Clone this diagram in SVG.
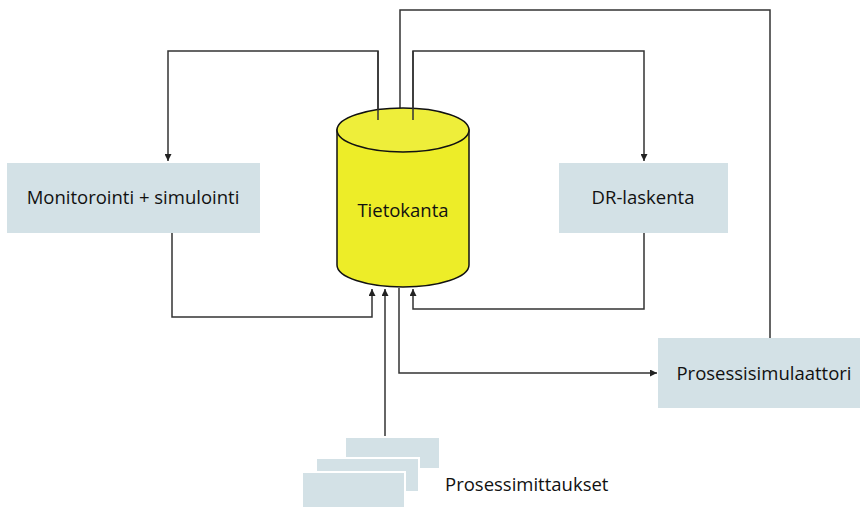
<svg xmlns="http://www.w3.org/2000/svg" width="861" height="507" viewBox="0 0 861 507">
<style>
.box{fill:#d3e1e6}
.lbl{font-family:"Open Sans","Liberation Sans",sans-serif;font-size:18.5px;fill:#111}
.ln{fill:none;stroke:#333;stroke-width:1.5}
</style>
<defs>
<marker id="ah" viewBox="0 0 10 10" refX="10" refY="5" markerWidth="7" markerHeight="7" markerUnits="userSpaceOnUse" orient="auto"><path d="M0,0L10,5L0,10z" fill="#222"/></marker>
</defs>
<rect width="861" height="507" fill="#fff"/>
<g id="connectors">
<path class="ln" d="M378,120V51H168V161" marker-end="url(#ah)"/>
<path class="ln" d="M770,338V10H400V121" marker-end="url(#ah)"/>
<path class="ln" d="M413,120V51H644V161" marker-end="url(#ah)"/>
<path class="ln" d="M172,233V317H372V289" marker-end="url(#ah)"/>
<path class="ln" d="M385,436V289" marker-end="url(#ah)"/>
<path class="ln" d="M399,288V373H657" marker-end="url(#ah)"/>
<path class="ln" d="M644,233V309H413V289" marker-end="url(#ah)"/>
</g>
<g id="tietokanta">
<path d="M337,130V265A66,22 0 0 0 469,265V130Z" fill="#eded28" stroke="#111" stroke-width="1.5"/>
<ellipse cx="403" cy="130" rx="66" ry="22" fill="#eeee3a" stroke="#111" stroke-width="1.5"/>
<path class="ln" d="M378,120V51M413,120V51"/>
<text class="lbl" x="403" y="217" text-anchor="middle">Tietokanta</text>
</g>
<g id="monitorointi">
<rect class="box" x="7" y="163" width="253" height="70"/>
<text class="lbl" x="133" y="204" text-anchor="middle">Monitorointi + simulointi</text>
</g>
<g id="dr-laskenta">
<rect class="box" x="559" y="163" width="169" height="70"/>
<text class="lbl" x="643" y="204" text-anchor="middle">DR-laskenta</text>
</g>
<g id="prosessisimulaattori">
<rect class="box" x="658" y="338" width="202" height="70"/>
<text class="lbl" x="764" y="380" text-anchor="middle">Prosessisimulaattori</text>
</g>
<g id="prosessimittaukset">
<rect class="box" x="345" y="437" width="95" height="32" stroke="#fff" stroke-width="2"/>
<rect class="box" x="316" y="458" width="103" height="34" stroke="#fff" stroke-width="2"/>
<rect class="box" x="302" y="472" width="103" height="40" stroke="#fff" stroke-width="2"/>
<text class="lbl" x="445" y="491">Prosessimittaukset</text>
</g>
</svg>
